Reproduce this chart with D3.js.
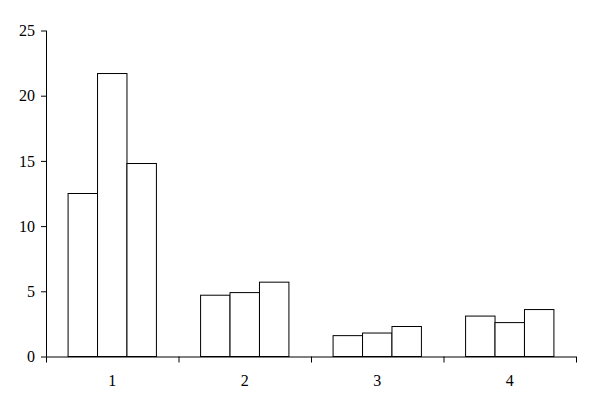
<!DOCTYPE html>
<html><head><meta charset="utf-8">
<script src="https://cdn.jsdelivr.net/npm/d3@7"></script>
<style>body{margin:0;background:#fff}svg text{fill:#000}</style>
</head><body><svg id="c" width="592" height="412"></svg>
<script>
const categories = ["1","2","3","4"];
const seriesA = [12.5, 4.7, 1.6, 3.1];
const seriesB = [21.7, 4.9, 1.8, 2.6];
const seriesC = [14.8, 5.7, 2.3, 3.6];
const yTicks = [0,5,10,15,20,25];

const FONT = "'Liberation Serif', 'Times New Roman', Times, serif";
const series = [seriesA, seriesB, seriesC];
const svg = d3.select("#c");
const mLeft = 46, mRight = 576, mTop = 30.5, mBottom = 356.5;
const x = d3.scaleBand().domain(categories).range([mLeft, mRight]).paddingInner(0).paddingOuter(0);
const y = d3.scaleLinear().domain([0,25]).range([mBottom, mTop]);
const bw = x.bandwidth() / 4.5;
const xs = d3.scaleBand().domain(d3.range(series.length)).range([bw*0.75, bw*0.75 + bw*3]);

const g = svg.append("g");
categories.forEach((c,i)=>{
  series.forEach((s,j)=>{
    g.append("rect")
      .attr("x", x(c) + xs(j))
      .attr("y", y(s[i]))
      .attr("width", xs.bandwidth())
      .attr("height", y(0) - y(s[i]))
      .attr("fill", "#fff").attr("stroke", "#000").attr("stroke-width", 1);
  });
});

// y axis
const ya = svg.append("g").attr("transform", `translate(${mLeft},0)`)
  .call(d3.axisLeft(y).tickValues(yTicks).tickSize(5).tickPadding(6).tickFormat(d3.format("d")));
ya.attr("font-family", FONT).attr("font-size", 16);
ya.select(".domain").attr("d", `M0.5,${mTop}V${mBottom}`);
ya.selectAll("text").attr("dy","0.32em");

// x axis
const xa = svg.append("g").attr("transform", `translate(0,${mBottom})`)
  .call(d3.axisBottom(x).tickSize(0).tickPadding(18));
xa.attr("font-family", FONT).attr("font-size", 16);
xa.select(".domain").attr("d", `M${mLeft},0.5H${mRight}`);
const edges = categories.map(c=>x(c)).concat([mRight]);
xa.selectAll(".sep").data(edges).enter().append("line")
  .attr("x1", d=>d+0.5).attr("x2", d=>d+0.5).attr("y1",0).attr("y2",6).attr("stroke","#000");
svg.selectAll(".domain, .tick line").attr("stroke","#000");
</script></body></html>
